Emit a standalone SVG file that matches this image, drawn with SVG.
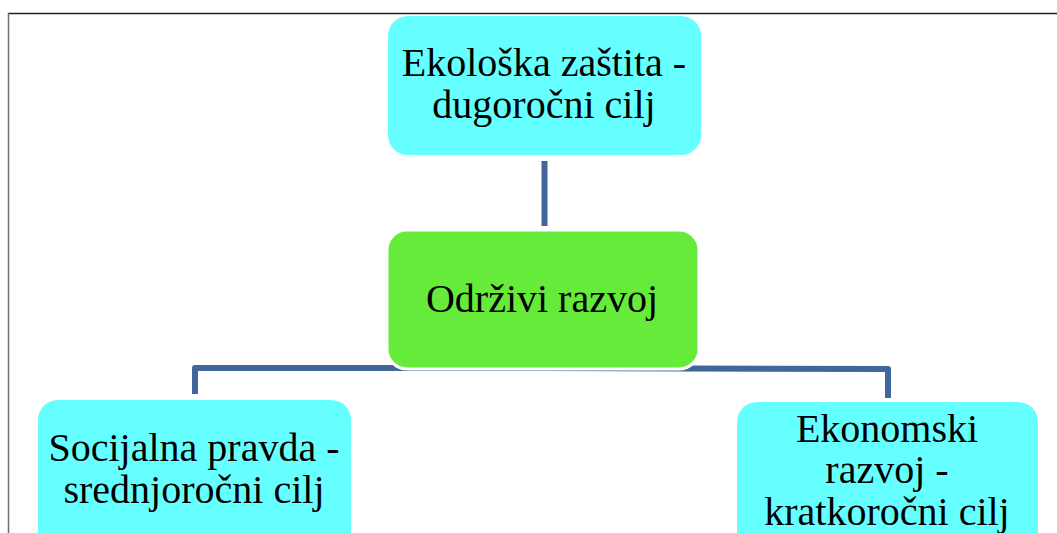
<svg xmlns="http://www.w3.org/2000/svg" width="1057" height="533" viewBox="0 0 1057 533">
<style>
.cy{fill:#66FFFF}
.gr{fill:#67EB3B;stroke:#fff;stroke-width:3}
.c{fill:none;stroke:#41669A;stroke-width:6;stroke-linejoin:round}
</style>
<rect width="1057" height="533" fill="#fff"/>
<line x1="8" y1="13.5" x2="1057" y2="13.5" stroke="#222" stroke-width="1.5"/>
<line x1="8.5" y1="13" x2="8.5" y2="533" stroke="#6e6e6e" stroke-width="1.5"/>
<g id="connectors">
<line class="c" x1="544.5" y1="161" x2="544.5" y2="226"/>
<polyline class="c" points="195,394 195,368 540,368 888,369 888,398"/>
</g>
<g id="n-eko">
<rect class="cy" x="388" y="16" width="313" height="139" rx="20"/>
<text x="544" y="76" font-family="Times New Roman, Liberation Serif, Tinos, serif" font-size="40" text-anchor="middle">Ekološka zaštita -</text>
<text x="544" y="118" font-family="Times New Roman, Liberation Serif, Tinos, serif" font-size="40" text-anchor="middle">dugoročni cilj</text>
</g>
<g id="n-odrzivi">
<rect class="gr" x="387" y="230" width="312" height="139" rx="20"/>
<text x="542" y="312" font-family="Times New Roman, Liberation Serif, Tinos, serif" font-size="40" text-anchor="middle">Održivi razvoj</text>
</g>
<g id="n-soc">
<rect class="cy" x="38" y="400" width="313" height="160" rx="20"/>
<text x="194" y="461" font-family="Times New Roman, Liberation Serif, Tinos, serif" font-size="40" text-anchor="middle">Socijalna pravda -</text>
<text x="194" y="503" font-family="Times New Roman, Liberation Serif, Tinos, serif" font-size="40" text-anchor="middle">srednjoročni cilj</text>
</g>
<g id="n-ekon">
<rect class="cy" x="737" y="402" width="301" height="160" rx="20"/>
<text x="887" y="442" font-family="Times New Roman, Liberation Serif, Tinos, serif" font-size="40" text-anchor="middle">Ekonomski</text>
<text x="887" y="483" font-family="Times New Roman, Liberation Serif, Tinos, serif" font-size="40" text-anchor="middle">razvoj -</text>
<text x="887" y="525" font-family="Times New Roman, Liberation Serif, Tinos, serif" font-size="40" text-anchor="middle">kratkoročni cilj</text>
</g>
</svg>
